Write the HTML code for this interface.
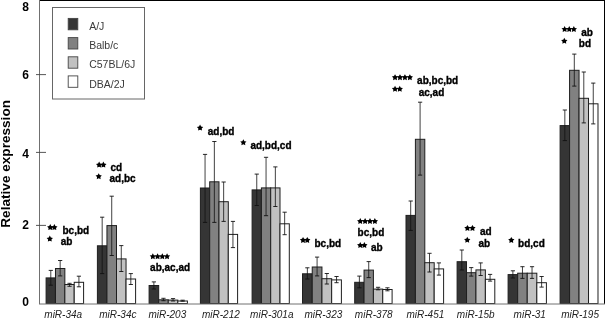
<!DOCTYPE html>
<html><head><meta charset="utf-8"><style>
html,body{margin:0;padding:0;background:#fff;}
svg{display:block;will-change:transform;filter:blur(0.3px);}
text{font-family:"Liberation Sans",sans-serif;}
.yl{font-size:12px;font-weight:bold;fill:#000;}
.yt{font-size:13.6px;font-weight:bold;fill:#000;}
.xl{font-size:10px;font-style:italic;fill:#222;}
.lg{font-size:10.5px;fill:#3a3a3a;}
.an{font-size:10px;font-weight:bold;fill:#000;stroke:#000;stroke-width:0.35px;}
.as{font-size:14px;font-weight:bold;fill:#000;letter-spacing:-0.3px;stroke:#000;stroke-width:0.6px;}
</style></head><body>
<svg width="605" height="319" viewBox="0 0 605 319">
<rect width="605" height="319" fill="#fff"/>
<line x1="39" y1="0.5" x2="605" y2="0.5" stroke="#000" stroke-width="1"/>
<line x1="604.5" y1="0" x2="604.5" y2="304" stroke="#000" stroke-width="1"/>
<rect x="46.10" y="277.90" width="9.37" height="25.60" fill="#353535" stroke="#1e1e1e" stroke-width="1"/>
<rect x="55.48" y="268.50" width="9.37" height="35.00" fill="#818181" stroke="#1e1e1e" stroke-width="1"/>
<rect x="64.85" y="284.50" width="9.37" height="19.00" fill="#c1c1c1" stroke="#1e1e1e" stroke-width="1"/>
<rect x="74.22" y="282.30" width="9.37" height="21.20" fill="#ffffff" stroke="#1e1e1e" stroke-width="1"/>
<rect x="97.40" y="245.80" width="9.55" height="57.70" fill="#353535" stroke="#1e1e1e" stroke-width="1"/>
<rect x="106.95" y="225.60" width="9.55" height="77.90" fill="#818181" stroke="#1e1e1e" stroke-width="1"/>
<rect x="116.50" y="258.90" width="9.55" height="44.60" fill="#c1c1c1" stroke="#1e1e1e" stroke-width="1"/>
<rect x="126.05" y="279.00" width="9.55" height="24.50" fill="#ffffff" stroke="#1e1e1e" stroke-width="1"/>
<rect x="149.10" y="285.50" width="9.58" height="18.00" fill="#353535" stroke="#1e1e1e" stroke-width="1"/>
<rect x="158.68" y="299.80" width="9.58" height="3.70" fill="#818181" stroke="#1e1e1e" stroke-width="1"/>
<rect x="168.25" y="300.10" width="9.58" height="3.40" fill="#c1c1c1" stroke="#1e1e1e" stroke-width="1"/>
<rect x="177.82" y="301.00" width="9.58" height="2.50" fill="#ffffff" stroke="#1e1e1e" stroke-width="1"/>
<rect x="200.40" y="188.00" width="9.30" height="115.50" fill="#353535" stroke="#1e1e1e" stroke-width="1"/>
<rect x="209.70" y="181.80" width="9.30" height="121.70" fill="#818181" stroke="#1e1e1e" stroke-width="1"/>
<rect x="219.00" y="201.70" width="9.30" height="101.80" fill="#c1c1c1" stroke="#1e1e1e" stroke-width="1"/>
<rect x="228.30" y="234.40" width="9.30" height="69.10" fill="#ffffff" stroke="#1e1e1e" stroke-width="1"/>
<rect x="252.10" y="189.90" width="9.30" height="113.60" fill="#353535" stroke="#1e1e1e" stroke-width="1"/>
<rect x="261.40" y="187.90" width="9.30" height="115.60" fill="#818181" stroke="#1e1e1e" stroke-width="1"/>
<rect x="270.70" y="187.90" width="9.30" height="115.60" fill="#c1c1c1" stroke="#1e1e1e" stroke-width="1"/>
<rect x="280.00" y="223.80" width="9.30" height="79.70" fill="#ffffff" stroke="#1e1e1e" stroke-width="1"/>
<rect x="302.50" y="273.80" width="9.72" height="29.70" fill="#353535" stroke="#1e1e1e" stroke-width="1"/>
<rect x="312.23" y="267.00" width="9.72" height="36.50" fill="#818181" stroke="#1e1e1e" stroke-width="1"/>
<rect x="321.95" y="278.70" width="9.72" height="24.80" fill="#c1c1c1" stroke="#1e1e1e" stroke-width="1"/>
<rect x="331.67" y="279.90" width="9.72" height="23.60" fill="#ffffff" stroke="#1e1e1e" stroke-width="1"/>
<rect x="354.70" y="282.30" width="9.35" height="21.20" fill="#353535" stroke="#1e1e1e" stroke-width="1"/>
<rect x="364.05" y="270.10" width="9.35" height="33.40" fill="#818181" stroke="#1e1e1e" stroke-width="1"/>
<rect x="373.40" y="289.10" width="9.35" height="14.40" fill="#c1c1c1" stroke="#1e1e1e" stroke-width="1"/>
<rect x="382.75" y="289.50" width="9.35" height="14.00" fill="#ffffff" stroke="#1e1e1e" stroke-width="1"/>
<rect x="406.00" y="215.40" width="9.40" height="88.10" fill="#353535" stroke="#1e1e1e" stroke-width="1"/>
<rect x="415.40" y="139.30" width="9.40" height="164.20" fill="#818181" stroke="#1e1e1e" stroke-width="1"/>
<rect x="424.80" y="262.70" width="9.40" height="40.80" fill="#c1c1c1" stroke="#1e1e1e" stroke-width="1"/>
<rect x="434.20" y="268.90" width="9.40" height="34.60" fill="#ffffff" stroke="#1e1e1e" stroke-width="1"/>
<rect x="457.10" y="261.70" width="9.42" height="41.80" fill="#353535" stroke="#1e1e1e" stroke-width="1"/>
<rect x="466.53" y="272.70" width="9.42" height="30.80" fill="#818181" stroke="#1e1e1e" stroke-width="1"/>
<rect x="475.95" y="269.90" width="9.42" height="33.60" fill="#c1c1c1" stroke="#1e1e1e" stroke-width="1"/>
<rect x="485.38" y="279.30" width="9.42" height="24.20" fill="#ffffff" stroke="#1e1e1e" stroke-width="1"/>
<rect x="508.10" y="274.60" width="9.57" height="28.90" fill="#353535" stroke="#1e1e1e" stroke-width="1"/>
<rect x="517.67" y="273.20" width="9.57" height="30.30" fill="#818181" stroke="#1e1e1e" stroke-width="1"/>
<rect x="527.25" y="273.20" width="9.57" height="30.30" fill="#c1c1c1" stroke="#1e1e1e" stroke-width="1"/>
<rect x="536.83" y="282.70" width="9.57" height="20.80" fill="#ffffff" stroke="#1e1e1e" stroke-width="1"/>
<rect x="560.10" y="125.60" width="9.47" height="177.90" fill="#353535" stroke="#1e1e1e" stroke-width="1"/>
<rect x="569.58" y="70.30" width="9.47" height="233.20" fill="#818181" stroke="#1e1e1e" stroke-width="1"/>
<rect x="579.05" y="98.30" width="9.47" height="205.20" fill="#c1c1c1" stroke="#1e1e1e" stroke-width="1"/>
<rect x="588.52" y="103.80" width="9.47" height="199.70" fill="#ffffff" stroke="#1e1e1e" stroke-width="1"/>
<line x1="50.79" y1="270.40" x2="50.79" y2="285.20" stroke="#111" stroke-width="0.8"/>
<line x1="48.69" y1="270.40" x2="52.89" y2="270.40" stroke="#111" stroke-width="0.9"/>
<line x1="48.69" y1="285.20" x2="52.89" y2="285.20" stroke="#111" stroke-width="0.9"/>
<line x1="60.16" y1="260.50" x2="60.16" y2="275.90" stroke="#111" stroke-width="0.8"/>
<line x1="58.06" y1="260.50" x2="62.26" y2="260.50" stroke="#111" stroke-width="0.9"/>
<line x1="58.06" y1="275.90" x2="62.26" y2="275.90" stroke="#111" stroke-width="0.9"/>
<line x1="69.54" y1="283.30" x2="69.54" y2="286.30" stroke="#111" stroke-width="0.8"/>
<line x1="67.44" y1="283.30" x2="71.64" y2="283.30" stroke="#111" stroke-width="0.9"/>
<line x1="67.44" y1="286.30" x2="71.64" y2="286.30" stroke="#111" stroke-width="0.9"/>
<line x1="78.91" y1="276.20" x2="78.91" y2="286.80" stroke="#111" stroke-width="0.8"/>
<line x1="76.81" y1="276.20" x2="81.01" y2="276.20" stroke="#111" stroke-width="0.9"/>
<line x1="76.81" y1="286.80" x2="81.01" y2="286.80" stroke="#111" stroke-width="0.9"/>
<line x1="102.18" y1="217.20" x2="102.18" y2="273.60" stroke="#111" stroke-width="0.8"/>
<line x1="100.08" y1="217.20" x2="104.28" y2="217.20" stroke="#111" stroke-width="0.9"/>
<line x1="100.08" y1="273.60" x2="104.28" y2="273.60" stroke="#111" stroke-width="0.9"/>
<line x1="111.72" y1="196.20" x2="111.72" y2="255.50" stroke="#111" stroke-width="0.8"/>
<line x1="109.62" y1="196.20" x2="113.82" y2="196.20" stroke="#111" stroke-width="0.9"/>
<line x1="109.62" y1="255.50" x2="113.82" y2="255.50" stroke="#111" stroke-width="0.9"/>
<line x1="121.28" y1="245.60" x2="121.28" y2="271.50" stroke="#111" stroke-width="0.8"/>
<line x1="119.18" y1="245.60" x2="123.38" y2="245.60" stroke="#111" stroke-width="0.9"/>
<line x1="119.18" y1="271.50" x2="123.38" y2="271.50" stroke="#111" stroke-width="0.9"/>
<line x1="130.82" y1="273.60" x2="130.82" y2="284.50" stroke="#111" stroke-width="0.8"/>
<line x1="128.72" y1="273.60" x2="132.92" y2="273.60" stroke="#111" stroke-width="0.9"/>
<line x1="128.72" y1="284.50" x2="132.92" y2="284.50" stroke="#111" stroke-width="0.9"/>
<line x1="153.89" y1="281.90" x2="153.89" y2="289.00" stroke="#111" stroke-width="0.8"/>
<line x1="151.79" y1="281.90" x2="155.99" y2="281.90" stroke="#111" stroke-width="0.9"/>
<line x1="151.79" y1="289.00" x2="155.99" y2="289.00" stroke="#111" stroke-width="0.9"/>
<line x1="163.46" y1="298.30" x2="163.46" y2="300.70" stroke="#111" stroke-width="0.8"/>
<line x1="161.36" y1="298.30" x2="165.56" y2="298.30" stroke="#111" stroke-width="0.9"/>
<line x1="161.36" y1="300.70" x2="165.56" y2="300.70" stroke="#111" stroke-width="0.9"/>
<line x1="173.04" y1="298.60" x2="173.04" y2="301.00" stroke="#111" stroke-width="0.8"/>
<line x1="170.94" y1="298.60" x2="175.14" y2="298.60" stroke="#111" stroke-width="0.9"/>
<line x1="170.94" y1="301.00" x2="175.14" y2="301.00" stroke="#111" stroke-width="0.9"/>
<line x1="182.61" y1="300.20" x2="182.61" y2="301.20" stroke="#111" stroke-width="0.8"/>
<line x1="180.51" y1="300.20" x2="184.71" y2="300.20" stroke="#111" stroke-width="0.9"/>
<line x1="180.51" y1="301.20" x2="184.71" y2="301.20" stroke="#111" stroke-width="0.9"/>
<line x1="205.05" y1="154.40" x2="205.05" y2="222.40" stroke="#111" stroke-width="0.8"/>
<line x1="202.95" y1="154.40" x2="207.15" y2="154.40" stroke="#111" stroke-width="0.9"/>
<line x1="202.95" y1="222.40" x2="207.15" y2="222.40" stroke="#111" stroke-width="0.9"/>
<line x1="214.35" y1="141.50" x2="214.35" y2="222.40" stroke="#111" stroke-width="0.8"/>
<line x1="212.25" y1="141.50" x2="216.45" y2="141.50" stroke="#111" stroke-width="0.9"/>
<line x1="212.25" y1="222.40" x2="216.45" y2="222.40" stroke="#111" stroke-width="0.9"/>
<line x1="223.65" y1="182.00" x2="223.65" y2="221.40" stroke="#111" stroke-width="0.8"/>
<line x1="221.55" y1="182.00" x2="225.75" y2="182.00" stroke="#111" stroke-width="0.9"/>
<line x1="221.55" y1="221.40" x2="225.75" y2="221.40" stroke="#111" stroke-width="0.9"/>
<line x1="232.95" y1="221.40" x2="232.95" y2="247.60" stroke="#111" stroke-width="0.8"/>
<line x1="230.85" y1="221.40" x2="235.05" y2="221.40" stroke="#111" stroke-width="0.9"/>
<line x1="230.85" y1="247.60" x2="235.05" y2="247.60" stroke="#111" stroke-width="0.9"/>
<line x1="256.75" y1="174.10" x2="256.75" y2="205.50" stroke="#111" stroke-width="0.8"/>
<line x1="254.65" y1="174.10" x2="258.85" y2="174.10" stroke="#111" stroke-width="0.9"/>
<line x1="254.65" y1="205.50" x2="258.85" y2="205.50" stroke="#111" stroke-width="0.9"/>
<line x1="266.05" y1="157.30" x2="266.05" y2="215.70" stroke="#111" stroke-width="0.8"/>
<line x1="263.95" y1="157.30" x2="268.15" y2="157.30" stroke="#111" stroke-width="0.9"/>
<line x1="263.95" y1="215.70" x2="268.15" y2="215.70" stroke="#111" stroke-width="0.9"/>
<line x1="275.35" y1="166.90" x2="275.35" y2="206.50" stroke="#111" stroke-width="0.8"/>
<line x1="273.25" y1="166.90" x2="277.45" y2="166.90" stroke="#111" stroke-width="0.9"/>
<line x1="273.25" y1="206.50" x2="277.45" y2="206.50" stroke="#111" stroke-width="0.9"/>
<line x1="284.65" y1="212.20" x2="284.65" y2="234.70" stroke="#111" stroke-width="0.8"/>
<line x1="282.55" y1="212.20" x2="286.75" y2="212.20" stroke="#111" stroke-width="0.9"/>
<line x1="282.55" y1="234.70" x2="286.75" y2="234.70" stroke="#111" stroke-width="0.9"/>
<line x1="307.36" y1="267.80" x2="307.36" y2="279.00" stroke="#111" stroke-width="0.8"/>
<line x1="305.26" y1="267.80" x2="309.46" y2="267.80" stroke="#111" stroke-width="0.9"/>
<line x1="305.26" y1="279.00" x2="309.46" y2="279.00" stroke="#111" stroke-width="0.9"/>
<line x1="317.09" y1="257.10" x2="317.09" y2="275.90" stroke="#111" stroke-width="0.8"/>
<line x1="314.99" y1="257.10" x2="319.19" y2="257.10" stroke="#111" stroke-width="0.9"/>
<line x1="314.99" y1="275.90" x2="319.19" y2="275.90" stroke="#111" stroke-width="0.9"/>
<line x1="326.81" y1="273.50" x2="326.81" y2="284.00" stroke="#111" stroke-width="0.8"/>
<line x1="324.71" y1="273.50" x2="328.91" y2="273.50" stroke="#111" stroke-width="0.9"/>
<line x1="324.71" y1="284.00" x2="328.91" y2="284.00" stroke="#111" stroke-width="0.9"/>
<line x1="336.54" y1="276.50" x2="336.54" y2="282.70" stroke="#111" stroke-width="0.8"/>
<line x1="334.44" y1="276.50" x2="338.64" y2="276.50" stroke="#111" stroke-width="0.9"/>
<line x1="334.44" y1="282.70" x2="338.64" y2="282.70" stroke="#111" stroke-width="0.9"/>
<line x1="359.38" y1="276.10" x2="359.38" y2="287.80" stroke="#111" stroke-width="0.8"/>
<line x1="357.27" y1="276.10" x2="361.48" y2="276.10" stroke="#111" stroke-width="0.9"/>
<line x1="357.27" y1="287.80" x2="361.48" y2="287.80" stroke="#111" stroke-width="0.9"/>
<line x1="368.73" y1="261.60" x2="368.73" y2="277.60" stroke="#111" stroke-width="0.8"/>
<line x1="366.62" y1="261.60" x2="370.83" y2="261.60" stroke="#111" stroke-width="0.9"/>
<line x1="366.62" y1="277.60" x2="370.83" y2="277.60" stroke="#111" stroke-width="0.9"/>
<line x1="378.07" y1="287.30" x2="378.07" y2="289.80" stroke="#111" stroke-width="0.8"/>
<line x1="375.97" y1="287.30" x2="380.18" y2="287.30" stroke="#111" stroke-width="0.9"/>
<line x1="375.97" y1="289.80" x2="380.18" y2="289.80" stroke="#111" stroke-width="0.9"/>
<line x1="387.43" y1="287.80" x2="387.43" y2="290.80" stroke="#111" stroke-width="0.8"/>
<line x1="385.32" y1="287.80" x2="389.53" y2="287.80" stroke="#111" stroke-width="0.9"/>
<line x1="385.32" y1="290.80" x2="389.53" y2="290.80" stroke="#111" stroke-width="0.9"/>
<line x1="410.70" y1="201.00" x2="410.70" y2="230.40" stroke="#111" stroke-width="0.8"/>
<line x1="408.60" y1="201.00" x2="412.80" y2="201.00" stroke="#111" stroke-width="0.9"/>
<line x1="408.60" y1="230.40" x2="412.80" y2="230.40" stroke="#111" stroke-width="0.9"/>
<line x1="420.10" y1="102.20" x2="420.10" y2="175.10" stroke="#111" stroke-width="0.8"/>
<line x1="418.00" y1="102.20" x2="422.20" y2="102.20" stroke="#111" stroke-width="0.9"/>
<line x1="418.00" y1="175.10" x2="422.20" y2="175.10" stroke="#111" stroke-width="0.9"/>
<line x1="429.50" y1="253.30" x2="429.50" y2="272.00" stroke="#111" stroke-width="0.8"/>
<line x1="427.40" y1="253.30" x2="431.60" y2="253.30" stroke="#111" stroke-width="0.9"/>
<line x1="427.40" y1="272.00" x2="431.60" y2="272.00" stroke="#111" stroke-width="0.9"/>
<line x1="438.90" y1="262.90" x2="438.90" y2="275.10" stroke="#111" stroke-width="0.8"/>
<line x1="436.80" y1="262.90" x2="441.00" y2="262.90" stroke="#111" stroke-width="0.9"/>
<line x1="436.80" y1="275.10" x2="441.00" y2="275.10" stroke="#111" stroke-width="0.9"/>
<line x1="461.81" y1="250.00" x2="461.81" y2="270.00" stroke="#111" stroke-width="0.8"/>
<line x1="459.71" y1="250.00" x2="463.91" y2="250.00" stroke="#111" stroke-width="0.9"/>
<line x1="459.71" y1="270.00" x2="463.91" y2="270.00" stroke="#111" stroke-width="0.9"/>
<line x1="471.24" y1="267.60" x2="471.24" y2="276.10" stroke="#111" stroke-width="0.8"/>
<line x1="469.14" y1="267.60" x2="473.34" y2="267.60" stroke="#111" stroke-width="0.9"/>
<line x1="469.14" y1="276.10" x2="473.34" y2="276.10" stroke="#111" stroke-width="0.9"/>
<line x1="480.66" y1="262.90" x2="480.66" y2="275.50" stroke="#111" stroke-width="0.8"/>
<line x1="478.56" y1="262.90" x2="482.76" y2="262.90" stroke="#111" stroke-width="0.9"/>
<line x1="478.56" y1="275.50" x2="482.76" y2="275.50" stroke="#111" stroke-width="0.9"/>
<line x1="490.09" y1="274.40" x2="490.09" y2="281.10" stroke="#111" stroke-width="0.8"/>
<line x1="487.99" y1="274.40" x2="492.19" y2="274.40" stroke="#111" stroke-width="0.9"/>
<line x1="487.99" y1="281.10" x2="492.19" y2="281.10" stroke="#111" stroke-width="0.9"/>
<line x1="512.89" y1="270.80" x2="512.89" y2="278.00" stroke="#111" stroke-width="0.8"/>
<line x1="510.79" y1="270.80" x2="514.99" y2="270.80" stroke="#111" stroke-width="0.9"/>
<line x1="510.79" y1="278.00" x2="514.99" y2="278.00" stroke="#111" stroke-width="0.9"/>
<line x1="522.46" y1="266.70" x2="522.46" y2="278.40" stroke="#111" stroke-width="0.8"/>
<line x1="520.36" y1="266.70" x2="524.56" y2="266.70" stroke="#111" stroke-width="0.9"/>
<line x1="520.36" y1="278.40" x2="524.56" y2="278.40" stroke="#111" stroke-width="0.9"/>
<line x1="532.04" y1="266.70" x2="532.04" y2="278.40" stroke="#111" stroke-width="0.8"/>
<line x1="529.94" y1="266.70" x2="534.14" y2="266.70" stroke="#111" stroke-width="0.9"/>
<line x1="529.94" y1="278.40" x2="534.14" y2="278.40" stroke="#111" stroke-width="0.9"/>
<line x1="541.61" y1="276.50" x2="541.61" y2="287.10" stroke="#111" stroke-width="0.8"/>
<line x1="539.51" y1="276.50" x2="543.71" y2="276.50" stroke="#111" stroke-width="0.9"/>
<line x1="539.51" y1="287.10" x2="543.71" y2="287.10" stroke="#111" stroke-width="0.9"/>
<line x1="564.84" y1="110.00" x2="564.84" y2="140.60" stroke="#111" stroke-width="0.8"/>
<line x1="562.74" y1="110.00" x2="566.94" y2="110.00" stroke="#111" stroke-width="0.9"/>
<line x1="562.74" y1="140.60" x2="566.94" y2="140.60" stroke="#111" stroke-width="0.9"/>
<line x1="574.31" y1="54.10" x2="574.31" y2="86.10" stroke="#111" stroke-width="0.8"/>
<line x1="572.21" y1="54.10" x2="576.41" y2="54.10" stroke="#111" stroke-width="0.9"/>
<line x1="572.21" y1="86.10" x2="576.41" y2="86.10" stroke="#111" stroke-width="0.9"/>
<line x1="583.79" y1="72.00" x2="583.79" y2="122.90" stroke="#111" stroke-width="0.8"/>
<line x1="581.69" y1="72.00" x2="585.89" y2="72.00" stroke="#111" stroke-width="0.9"/>
<line x1="581.69" y1="122.90" x2="585.89" y2="122.90" stroke="#111" stroke-width="0.9"/>
<line x1="593.26" y1="83.10" x2="593.26" y2="123.90" stroke="#111" stroke-width="0.8"/>
<line x1="591.16" y1="83.10" x2="595.36" y2="83.10" stroke="#111" stroke-width="0.9"/>
<line x1="591.16" y1="123.90" x2="595.36" y2="123.90" stroke="#111" stroke-width="0.9"/>
<line x1="39.5" y1="0" x2="39.5" y2="304" stroke="#707070" stroke-width="1"/>
<line x1="39" y1="304" x2="605" y2="304" stroke="#707070" stroke-width="1"/>
<line x1="36" y1="74.6" x2="46" y2="74.6" stroke="#444" stroke-width="0.9"/>
<line x1="36" y1="152.4" x2="46" y2="152.4" stroke="#444" stroke-width="0.9"/>
<line x1="36" y1="225.4" x2="46" y2="225.4" stroke="#444" stroke-width="0.9"/>
<text x="22.3" y="11.2" class="yl">8</text>
<text x="22.3" y="78.7" class="yl">6</text>
<text x="22.3" y="157.7" class="yl">4</text>
<text x="22.3" y="228.9" class="yl">2</text>
<text x="22.3" y="306.3" class="yl">0</text>
<text class="yt" transform="translate(9.6,227.7) rotate(-90)">Relative expression</text>
<text x="63.20" y="317.6" class="xl" text-anchor="middle">miR-34a</text>
<text x="117.86" y="317.6" class="xl" text-anchor="middle">miR-34c</text>
<text x="167.32" y="317.6" class="xl" text-anchor="middle">miR-203</text>
<text x="220.88" y="317.6" class="xl" text-anchor="middle">miR-212</text>
<text x="271.79" y="317.6" class="xl" text-anchor="middle">miR-301a</text>
<text x="323.40" y="317.6" class="xl" text-anchor="middle">miR-323</text>
<text x="373.76" y="317.6" class="xl" text-anchor="middle">miR-378</text>
<text x="425.37" y="317.6" class="xl" text-anchor="middle">miR-451</text>
<text x="475.73" y="317.6" class="xl" text-anchor="middle">miR-15b</text>
<text x="529.74" y="317.6" class="xl" text-anchor="middle">miR-31</text>
<text x="580.10" y="317.6" class="xl" text-anchor="middle">miR-195</text>
<rect x="52.5" y="7.5" width="92" height="91.5" fill="#fff" stroke="#666" stroke-width="1"/>
<rect x="68.2" y="18.4" width="9.6" height="11.4" fill="#353535" stroke="#444" stroke-width="0.9"/>
<text x="89.2" y="29.5" class="lg">A/J</text>
<rect x="68.2" y="37.6" width="9.6" height="11.4" fill="#818181" stroke="#444" stroke-width="0.9"/>
<text x="89.2" y="49.0" class="lg">Balb/c</text>
<rect x="68.2" y="56.8" width="9.6" height="11.4" fill="#c1c1c1" stroke="#444" stroke-width="0.9"/>
<text x="89.2" y="67.9" class="lg">C57BL/6J</text>
<rect x="68.2" y="75.9" width="9.6" height="11.4" fill="#ffffff" stroke="#444" stroke-width="0.9"/>
<text x="89.2" y="88.3" class="lg">DBA/2J</text>
<polygon points="50.24,224.11 51.27,226.00 53.38,226.39 51.90,227.95 52.18,230.08 50.24,229.16 48.30,230.08 48.57,227.95 47.10,226.39 49.21,226.00" fill="#000"/>
<polygon points="54.36,224.11 55.39,226.00 57.50,226.39 56.03,227.95 56.30,230.08 54.36,229.16 52.42,230.08 52.70,227.95 51.22,226.39 53.33,226.00" fill="#000"/>
<polygon points="49.80,235.61 50.83,237.50 52.94,237.89 51.46,239.45 51.74,241.58 49.80,240.66 47.86,241.58 48.14,239.45 46.66,237.89 48.77,237.50" fill="#000"/>
<polygon points="99.14,161.61 100.17,163.50 102.28,163.89 100.80,165.45 101.08,167.58 99.14,166.66 97.20,167.58 97.47,165.45 96.00,163.89 98.11,163.50" fill="#000"/>
<polygon points="103.36,161.61 104.39,163.50 106.50,163.89 105.03,165.45 105.30,167.58 103.36,166.66 101.42,167.58 101.70,165.45 100.22,163.89 102.33,163.50" fill="#000"/>
<polygon points="98.70,173.21 99.73,175.10 101.84,175.49 100.36,177.05 100.64,179.18 98.70,178.26 96.76,179.18 97.04,177.05 95.56,175.49 97.67,175.10" fill="#000"/>
<polygon points="152.84,253.26 153.87,255.15 155.98,255.54 154.50,257.10 154.78,259.23 152.84,258.31 150.90,259.23 151.17,257.10 149.70,255.54 151.81,255.15" fill="#000"/>
<polygon points="157.58,253.26 158.61,255.15 160.72,255.54 159.24,257.10 159.52,259.23 157.58,258.31 155.64,259.23 155.92,257.10 154.44,255.54 156.55,255.15" fill="#000"/>
<polygon points="162.32,253.26 163.35,255.15 165.46,255.54 163.98,257.10 164.26,259.23 162.32,258.31 160.38,259.23 160.66,257.10 159.18,255.54 161.29,255.15" fill="#000"/>
<polygon points="167.06,253.26 168.09,255.15 170.20,255.54 168.73,257.10 169.00,259.23 167.06,258.31 165.12,259.23 165.40,257.10 163.92,255.54 166.03,255.15" fill="#000"/>
<polygon points="200.05,124.61 201.08,126.50 203.19,126.89 201.71,128.45 201.99,130.58 200.05,129.66 198.11,130.58 198.39,128.45 196.91,126.89 199.02,126.50" fill="#000"/>
<polygon points="243.35,139.26 244.38,141.15 246.49,141.54 245.01,143.10 245.29,145.23 243.35,144.31 241.41,145.23 241.69,143.10 240.21,141.54 242.32,141.15" fill="#000"/>
<polygon points="303.04,236.96 304.07,238.85 306.18,239.24 304.70,240.80 304.98,242.93 303.04,242.01 301.10,242.93 301.37,240.80 299.90,239.24 302.01,238.85" fill="#000"/>
<polygon points="307.26,236.96 308.29,238.85 310.40,239.24 308.93,240.80 309.20,242.93 307.26,242.01 305.32,242.93 305.60,240.80 304.12,239.24 306.23,238.85" fill="#000"/>
<polygon points="360.24,218.06 361.27,219.95 363.38,220.34 361.90,221.90 362.18,224.03 360.24,223.11 358.30,224.03 358.57,221.90 357.10,220.34 359.21,219.95" fill="#000"/>
<polygon points="365.11,218.06 366.14,219.95 368.25,220.34 366.78,221.90 367.05,224.03 365.11,223.11 363.17,224.03 363.45,221.90 361.97,220.34 364.08,219.95" fill="#000"/>
<polygon points="369.99,218.06 371.02,219.95 373.13,220.34 371.65,221.90 371.93,224.03 369.99,223.11 368.05,224.03 368.32,221.90 366.85,220.34 368.96,219.95" fill="#000"/>
<polygon points="374.86,218.06 375.89,219.95 378.00,220.34 376.53,221.90 376.80,224.03 374.86,223.11 372.92,224.03 373.20,221.90 371.72,220.34 373.83,219.95" fill="#000"/>
<polygon points="360.24,242.06 361.27,243.95 363.38,244.34 361.90,245.90 362.18,248.03 360.24,247.11 358.30,248.03 358.57,245.90 357.10,244.34 359.21,243.95" fill="#000"/>
<polygon points="364.36,242.06 365.39,243.95 367.50,244.34 366.03,245.90 366.30,248.03 364.36,247.11 362.42,248.03 362.70,245.90 361.22,244.34 363.33,243.95" fill="#000"/>
<polygon points="395.04,74.21 396.07,76.10 398.18,76.49 396.70,78.05 396.98,80.18 395.04,79.26 393.10,80.18 393.37,78.05 391.90,76.49 394.01,76.10" fill="#000"/>
<polygon points="399.98,74.21 401.01,76.10 403.12,76.49 401.64,78.05 401.92,80.18 399.98,79.26 398.04,80.18 398.32,78.05 396.84,76.49 398.95,76.10" fill="#000"/>
<polygon points="404.92,74.21 405.95,76.10 408.06,76.49 406.58,78.05 406.86,80.18 404.92,79.26 402.98,80.18 403.26,78.05 401.78,76.49 403.89,76.10" fill="#000"/>
<polygon points="409.86,74.21 410.89,76.10 413.00,76.49 411.53,78.05 411.80,80.18 409.86,79.26 407.92,80.18 408.20,78.05 406.72,76.49 408.83,76.10" fill="#000"/>
<polygon points="395.04,85.81 396.07,87.70 398.18,88.09 396.70,89.65 396.98,91.78 395.04,90.86 393.10,91.78 393.37,89.65 391.90,88.09 394.01,87.70" fill="#000"/>
<polygon points="399.76,85.81 400.79,87.70 402.90,88.09 401.43,89.65 401.70,91.78 399.76,90.86 397.82,91.78 398.10,89.65 396.62,88.09 398.73,87.70" fill="#000"/>
<polygon points="467.44,224.91 468.47,226.80 470.58,227.19 469.10,228.75 469.38,230.88 467.44,229.96 465.50,230.88 465.77,228.75 464.30,227.19 466.41,226.80" fill="#000"/>
<polygon points="472.46,224.91 473.49,226.80 475.60,227.19 474.13,228.75 474.40,230.88 472.46,229.96 470.52,230.88 470.80,228.75 469.32,227.19 471.43,226.80" fill="#000"/>
<polygon points="467.25,236.81 468.28,238.70 470.39,239.09 468.91,240.65 469.19,242.78 467.25,241.86 465.31,242.78 465.59,240.65 464.11,239.09 466.22,238.70" fill="#000"/>
<polygon points="511.30,236.96 512.33,238.85 514.44,239.24 512.96,240.80 513.24,242.93 511.30,242.01 509.36,242.93 509.64,240.80 508.16,239.24 510.27,238.85" fill="#000"/>
<polygon points="564.64,26.01 565.67,27.90 567.78,28.29 566.30,29.85 566.58,31.98 564.64,31.06 562.70,31.98 562.97,29.85 561.50,28.29 563.61,27.90" fill="#000"/>
<polygon points="569.25,26.01 570.28,27.90 572.39,28.29 570.91,29.85 571.19,31.98 569.25,31.06 567.31,31.98 567.59,29.85 566.11,28.29 568.22,27.90" fill="#000"/>
<polygon points="573.86,26.01 574.89,27.90 577.00,28.29 575.53,29.85 575.80,31.98 573.86,31.06 571.92,31.98 572.20,29.85 570.72,28.29 572.83,27.90" fill="#000"/>
<polygon points="564.30,37.81 565.33,39.70 567.44,40.09 565.96,41.65 566.24,43.78 564.30,42.86 562.36,43.78 562.64,41.65 561.16,40.09 563.27,39.70" fill="#000"/>
<text x="62.5" y="233.6" class="an">bc,bd</text>
<text x="60.8" y="245.1" class="an">ab</text>
<text x="110.5" y="171.4" class="an">cd</text>
<text x="109.5" y="182.4" class="an">ad,bc</text>
<text x="150.1" y="271.3" class="an">ab,ac,ad</text>
<text x="207.8" y="135.2" class="an">ad,bd</text>
<text x="250.4" y="149.1" class="an">ad,bd,cd</text>
<text x="314.5" y="246.6" class="an">bc,bd</text>
<text x="357.6" y="235.8" class="an">bc,bd</text>
<text x="371.0" y="251.3" class="an">ab</text>
<text x="417.1" y="84.0" class="an">ab,bc,bd</text>
<text x="418.7" y="95.5" class="an">ac,ad</text>
<text x="480.0" y="235.0" class="an">ad</text>
<text x="478.4" y="246.5" class="an">ab</text>
<text x="518.1" y="246.6" class="an">bd,cd</text>
<text x="581.2" y="35.9" class="an">ab</text>
<text x="578.8" y="47.3" class="an">bd</text>
</svg>
</body></html>
